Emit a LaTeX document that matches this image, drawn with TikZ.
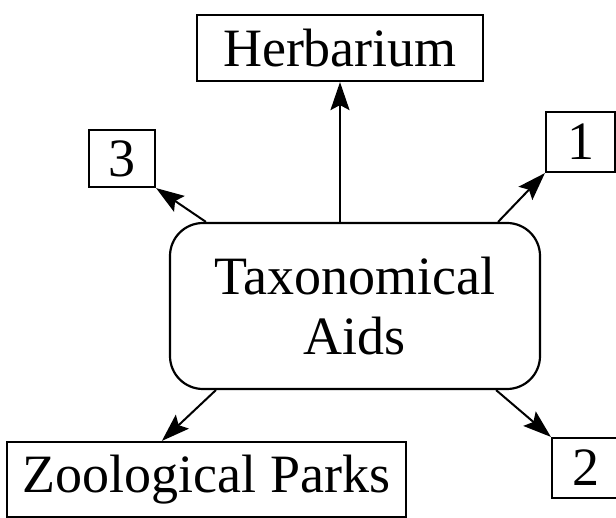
\documentclass[tikz,border=0pt]{standalone}
\usepackage{fontspec}
\setmainfont{Liberation Serif}
\usetikzlibrary{arrows.meta}
\begin{document}
\begin{tikzpicture}[x=1pt,y=-1pt,
  box/.style={draw, line width=2.2pt, inner sep=0pt, align=center, font=\fontsize{54}{60}\selectfont},
  arr/.style={line width=2pt, -{Stealth[length=28pt,width=19pt,inset=5pt]}}]
\useasboundingbox (0,0) rectangle (616,518);
\node[box, minimum width=286pt, minimum height=66pt] (h) at (340,48) {Herbarium};
\node[box, minimum width=66pt, minimum height=57pt] (b3) at (122,158.5) {3};
\node[box, minimum width=69pt, minimum height=60pt] (b1) at (580.5,142) {1};
\node[box, rounded corners=33pt, minimum width=370pt, minimum height=166pt] (c) at (355,306) {Taxonomical\\Aids};
\node[box, minimum width=399pt, minimum height=75pt] (zp) at (206.5,479.5) {Zoological Parks};
\node[box, minimum width=68pt, minimum height=60pt] (b2) at (586,468) {2};
\draw[arr] (c.north -| h.south) -- (h.south);
\draw[arr] ([xshift=37pt]c.north west) -- (b3.south east);
\draw[arr] ([xshift=-43pt]c.north east) -- (b1.south west);
\draw[arr] ([xshift=47pt]c.south west) -- ([xshift=156pt]zp.north west);
\draw[arr] ([xshift=-45pt]c.south east) -- (b2.north west);
\end{tikzpicture}
\end{document}
